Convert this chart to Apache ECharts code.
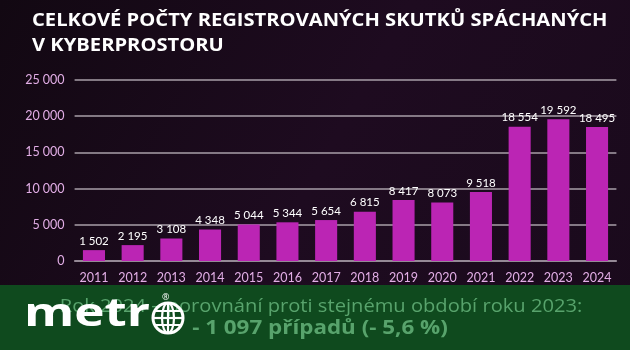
<!DOCTYPE html>
<html><head><meta charset="utf-8">
<script src="https://cdn.jsdelivr.net/npm/echarts@6/dist/echarts.min.js"></script>
<style>html,body{margin:0;padding:0;background:#160a18}#c{width:630px;height:350px}</style>
</head><body><div id="c"></div>
<script>
const years = ['2011','2012','2013','2014','2015','2016','2017','2018','2019','2020','2021','2022','2023','2024'];
const cases = [1502,2195,3108,4348,5044,5344,5654,6815,8417,8073,9518,18554,19592,18495];
const yTicks = {min:0,max:25000,interval:5000};
const titleLines = ['CELKOVÉ POČTY REGISTROVANÝCH SKUTKŮ SPÁCHANÝCH','V KYBERPROSTORU'];
const footLine1 = 'Rok 2024 – porovnání proti stejnému období roku 2023:';
const footLine2 = '- 1 097 případů (- 5,6 %)';

const fmt = v => String(v).replace(/\B(?=(\d{3})+(?!\d))/g,' ');
const chart = echarts.init(document.getElementById('c'));
function txt(x,y,text,font,fill,align,sx,z){
  return {type:'text',x:x,y:y,scaleX:sx||1,z:z||5,
    style:{x:0,y:0,text:text,font:font,fill:fill,textAlign:align||'left',align:align||'left',
      textVerticalAlign:'bottom',verticalAlign:'bottom'}};
}
const globe = {
  type:'group', x:151, y:301, z:6, children:[
    {type:'circle',z:6,shape:{cx:17,cy:17,r:15},style:{fill:'none',stroke:'#fff',lineWidth:3}},
    {type:'ellipse',z:6,shape:{cx:17,cy:17,rx:6,ry:15},style:{fill:'none',stroke:'#fff',lineWidth:2.2}},
    {type:'line',z:6,shape:{x1:17,y1:2,x2:17,y2:32},style:{stroke:'#fff',lineWidth:2.2}},
    {type:'line',z:6,shape:{x1:2,y1:17,x2:32,y2:17},style:{stroke:'#fff',lineWidth:2.2}},
    {type:'line',z:6,shape:{x1:5,y1:10,x2:29,y2:10},style:{stroke:'#fff',lineWidth:2}},
    {type:'line',z:6,shape:{x1:5,y1:24,x2:29,y2:24},style:{stroke:'#fff',lineWidth:2}}
  ]};
chart.setOption({
  backgroundColor: new echarts.graphic.LinearGradient(0,0,1,1,[{offset:0,color:'#120812'},{offset:0.5,color:'#1e0b20'},{offset:1,color:'#1a0a1c'}]),
  animation:false,
  graphic:[
    {type:'rect',shape:{x:0,y:285,width:630,height:65},style:{fill:'#0f4a1e'},z:0},
    txt(32,30,titleLines[0],'bold 18px "Open Sans"','#ffffff','left',1.12),
    txt(32,55,titleLines[1],'bold 18px "Open Sans"','#ffffff','left',1.12),
    txt(321,316,footLine1,'19px "Open Sans"','#58a36c','center',1.06),
    txt(320,338,footLine2,'bold 20px "Open Sans"','#58a36c','center',1.12),
    txt(24,335,'metr','bold 40px "Open Sans"','#ffffff','left',1.28,7),
    globe,
    txt(162,302,'®','9px "Open Sans"','#ffffff','left',1,7)
  ],
  grid:{left:74.6,right:13.6,top:80,bottom:89},
  xAxis:{type:'category',data:years,axisLine:{show:true,lineStyle:{color:'#9a8f9c',width:1.5}},axisTick:{show:false},
    axisLabel:{color:'#e2aee6',fontSize:12.5,margin:10,interval:0,fontFamily:'Lato'}},
  yAxis:{type:'value',min:yTicks.min,max:yTicks.max,interval:yTicks.interval,
    axisLabel:{color:'#e2aee6',fontSize:12.5,margin:10,fontFamily:'Lato',formatter:fmt},
    splitLine:{lineStyle:{color:'#a89fa9',width:1.5}},axisLine:{show:false},axisTick:{show:false}},
  series:[{type:'bar',data:cases,barWidth:'57%',itemStyle:{color:'#bb25b4'},
    label:{show:true,position:'top',distance:3,color:'#ffffff',fontSize:11.5,fontFamily:'Lato',formatter:p=>fmt(p.value)}}]
});
</script></body></html>
